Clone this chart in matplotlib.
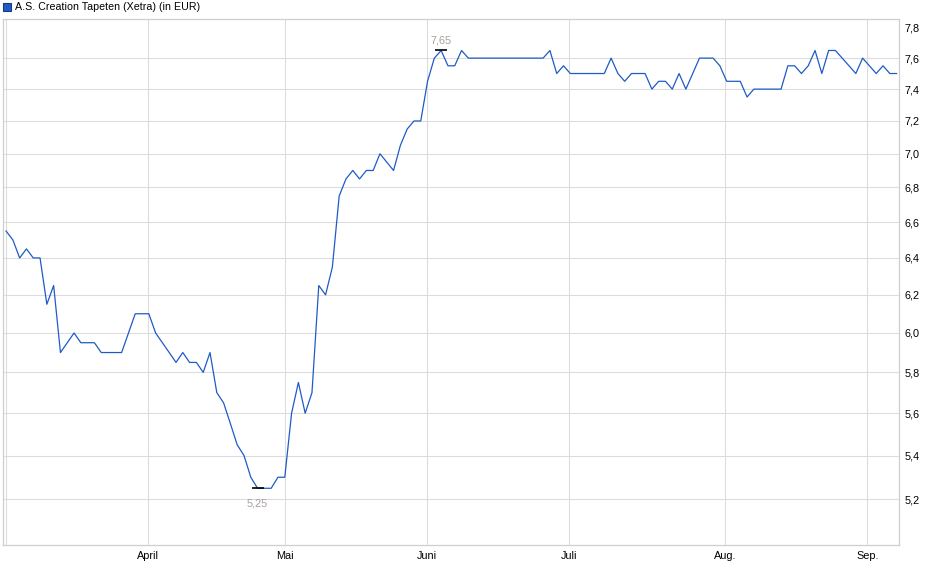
import matplotlib
matplotlib.use('Agg')
import matplotlib.pyplot as plt
from matplotlib.patches import Rectangle
import numpy as np

# daily closing prices (EUR), one per trading day
prices = [
    6.55, 6.5, 6.4, 6.45, 6.4, 6.4, 6.15, 6.25, 5.9, 5.95,
    6.0, 5.95, 5.95, 5.95, 5.9, 5.9, 5.9, 5.9, 6.0, 6.1,
    6.1, 6.1, 6.0, 5.95, 5.9, 5.85, 5.9, 5.85, 5.85, 5.8,
    5.9, 5.7, 5.65, 5.55, 5.45, 5.4, 5.3, 5.25, 5.25, 5.25,
    5.3, 5.3, 5.6, 5.75, 5.6, 5.7, 6.25, 6.2, 6.35, 6.75,
    6.85, 6.9, 6.85, 6.9, 6.9, 7.0, 6.95, 6.9, 7.05, 7.15,
    7.2, 7.2, 7.45, 7.6, 7.65, 7.55, 7.55, 7.65, 7.6, 7.6,
    7.6, 7.6, 7.6, 7.6, 7.6, 7.6, 7.6, 7.6, 7.6, 7.6,
    7.65, 7.5, 7.55, 7.5, 7.5, 7.5, 7.5, 7.5, 7.5, 7.6,
    7.5, 7.45, 7.5, 7.5, 7.5, 7.4, 7.45, 7.45, 7.4, 7.5,
    7.4, 7.5, 7.6, 7.6, 7.6, 7.55, 7.45, 7.45, 7.45, 7.35,
    7.4, 7.4, 7.4, 7.4, 7.4, 7.55, 7.55, 7.5, 7.55, 7.65,
    7.5, 7.65, 7.65, 7.6, 7.55, 7.5, 7.6, 7.55, 7.5, 7.55,
    7.5, 7.5,
]

month_labels = ['April', 'Mai', 'Juni', 'Juli', 'Aug.', 'Sep.']
month_pos = [20.9, 41.0, 61.9, 82.8, 105.8, 126.7]

y_ticks = [5.2, 5.4, 5.6, 5.8, 6.0, 6.2, 6.4, 6.6, 6.8, 7.0, 7.2, 7.4, 7.6, 7.8]
y_labels = [f'{v:.1f}'.replace('.', ',') for v in y_ticks]

title = 'A.S. Creation Tapeten (Xetra) (in EUR)'

plt.rcParams['font.family'] = ['Liberation Sans', 'DejaVu Sans']

line_col = '#1f5bc6'
grid_col = '#dcdcdc'

fig = plt.figure(figsize=(9.4, 5.79), dpi=100)
ax = fig.add_axes([3 / 940, 1 - 545 / 579, 896 / 940, 526 / 579])

x = np.arange(len(prices))
ax.plot(x, prices, color=line_col, lw=0.9)

ax.set_yscale('log')
ax.set_ylim(5.0, 7.86)
ax.set_xlim(-0.45, 131.35)

ax.yaxis.set_major_locator(matplotlib.ticker.FixedLocator(y_ticks))
ax.yaxis.set_major_formatter(matplotlib.ticker.FixedFormatter(y_labels))
ax.yaxis.set_minor_locator(matplotlib.ticker.NullLocator())
ax.yaxis.tick_right()

ax.set_xticks([0] + month_pos)
ax.set_xticklabels([''] + month_labels)

ax.tick_params(axis='y', length=0, pad=4, labelsize=7.8, colors='black')
ax.tick_params(axis='x', length=0, pad=4, labelsize=7.8, colors='black')

ax.grid(True, color=grid_col, lw=0.8)
ax.get_ygridlines()[-1].set_visible(False)
ax.set_axisbelow(True)
for s in ax.spines.values():
    s.set_color('#cfcfcf')
    s.set_linewidth(0.9)

# min / max markers
imin = int(np.argmin(prices))
imax = int(np.argmax(prices))
ax.plot(imin, prices[imin], marker='_', ms=9, mew=1.2, color='black')
ax.plot(imax, prices[imax], marker='_', ms=9, mew=1.2, color='black')
ax.annotate(f'{prices[imin]:.2f}'.replace('.', ','), (imin, prices[imin]),
            xytext=(0, -11), textcoords='offset points', ha='center', va='center',
            fontsize=7.8, color='#a8a09c')
ax.annotate(f'{prices[imax]:.2f}'.replace('.', ','), (imax, prices[imax]),
            xytext=(0, 7), textcoords='offset points', ha='center', va='center',
            fontsize=7.8, color='#a8a09c')

# legend box + title
fig.patches.append(Rectangle((3 / 940, 1 - 11 / 579), 8 / 940, 8 / 579,
                             transform=fig.transFigure, facecolor=line_col,
                             edgecolor='#1a3a80', lw=0.8))
fig.text(15 / 940, 1 - 7 / 579, title, ha='left', va='center', fontsize=7.7, color='black')

fig.savefig('out.png', dpi=100)
